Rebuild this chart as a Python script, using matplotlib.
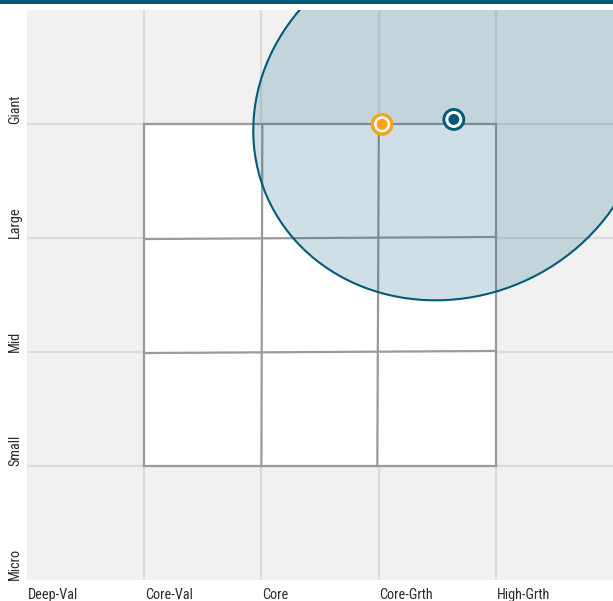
import numpy as np
import matplotlib
matplotlib.use("Agg")
import matplotlib.pyplot as plt
from matplotlib.patches import Ellipse, Rectangle
from matplotlib import font_manager

x_labels = ["Deep-Val", "Core-Val", "Core", "Core-Grth", "High-Grth"]
y_labels = ["Micro", "Small", "Mid", "Large", "Giant"]

# ownership zone (ellipse): center, semi-axes, angle
zone_center = (3.605, 4.056)
zone_semi_axes = (1.569, 1.706)
zone_angle = 119.2

# style box breakpoints: vertical lines (x at bottom, x at top), horizontal lines (y at left, y at right)
box_v_lines = [(1.0, 1.0), (2.0, 2.008), (2.989, 3.002), (4.0, 4.0)]
box_h_lines = [(1.0, 1.0), (1.991, 2.009), (2.991, 3.009), (4.0, 4.0)]

# points
bench_point = (3.03, 3.997)   # orange
fund_point = (3.642, 4.04)    # teal

TEAL = "#005a78"
ORANGE = "#f7a21b"

names = {f.name for f in font_manager.fontManager.ttflist}
fam = "DejaVu Sans"
for cand in ["Roboto Condensed", "Liberation Sans Narrow", "Arial Narrow", "PT Sans Narrow",
             "Archivo Narrow", "Open Sans Condensed", "Roboto"]:
    if cand in names:
        fam = cand
        break

fig = plt.figure(figsize=(6.13, 6.01), dpi=100)
fig.patches.append(Rectangle((0, 1 - 3.5/601), 1, 3.5/601, transform=fig.transFigure,
                             facecolor=TEAL, edgecolor="none"))
ax = fig.add_axes([27/613, 21/601, 1 - 27/613, 570/601])
ax.set_xlim(0, 5)
ax.set_ylim(0, 5)
ax.set_facecolor("#f1f1f1")
for s in ax.spines.values():
    s.set_visible(False)
ax.set_xticks([]); ax.set_yticks([])
for k in range(1, 5):
    ax.axvline(k, color="#dcdcdc", lw=1.6, zorder=1)
    ax.axhline(k, color="#dcdcdc", lw=1.6, zorder=1)
x_lo, x_hi = box_v_lines[0][0], box_v_lines[-1][0]
y_lo, y_hi = box_h_lines[0][0], box_h_lines[-1][0]
ax.add_patch(Rectangle((x_lo, y_lo), x_hi - x_lo, y_hi - y_lo, facecolor="white", edgecolor="none", zorder=2))
for xb, xt in box_v_lines:
    ax.plot([xb, xt], [y_lo, y_hi], color="#9a9a9a", lw=1.6, zorder=3, solid_capstyle="projecting")
for yl, yr in box_h_lines:
    ax.plot([x_lo, x_hi], [yl, yr], color="#9a9a9a", lw=1.6, zorder=3, solid_capstyle="projecting")

ax.add_patch(Ellipse(zone_center, 2*zone_semi_axes[0], 2*zone_semi_axes[1], angle=zone_angle,
                     facecolor=(0, 0x5a/255, 0x78/255, 0.19), edgecolor=TEAL, lw=1.5, zorder=4))

for (px, py), col, white_s in [(bench_point, ORANGE, 135), (fund_point, TEAL, 150)]:
    ax.scatter([px], [py], s=270, color=col, edgecolors="none", zorder=6, clip_on=False)
    ax.scatter([px], [py], s=white_s, color="white", edgecolors="none", zorder=7, clip_on=False)
    ax.scatter([px], [py], s=62, color=col, edgecolors="none", zorder=8, clip_on=False)

for i, lab in enumerate(x_labels):
    ax.text(i + 0.005, -0.07, lab, ha="left", va="top", fontsize=10.3, color="#2b2b2b",
            family=fam)
for i, lab in enumerate(y_labels):
    ax.text(-0.1, i, lab, ha="center", va="bottom", rotation=90, fontsize=10.3,
            color="#2b2b2b", family=fam)

fig.savefig("out.png", dpi=100)
